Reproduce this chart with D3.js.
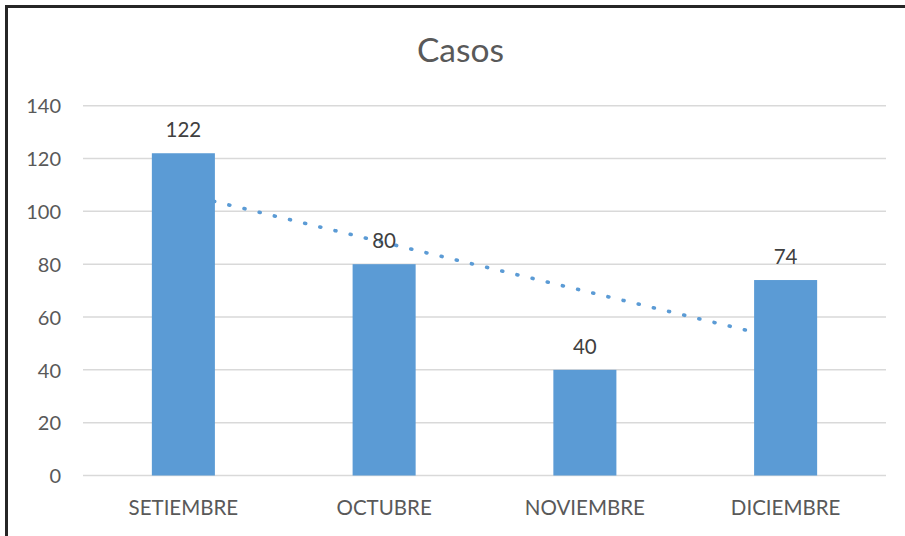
<!DOCTYPE html>
<html>
<head>
<meta charset="utf-8">
<script src="https://cdn.jsdelivr.net/npm/d3@7"></script>
<style>
  html, body { margin: 0; padding: 0; background: #fff; }
  svg { display: block; }
</style>
</head>
<body>
<svg id="chart" width="905" height="536"></svg>
<script>
// Monthly case counts
const months = ["SETIEMBRE", "OCTUBRE", "NOVIEMBRE", "DICIEMBRE"];
const casos = [122, 80, 40, 74];
const yTicks = [0, 20, 40, 60, 80, 100, 120, 140];
const chartTitle = "Casos";

const svg = d3.select("#chart");
const W = 905, H = 536;
const font = "Lato, 'Open Sans', sans-serif";

// Chart frame (extends past the right and bottom edges)
svg.append("rect")
  .attr("x", 6.5).attr("y", 6.5)
  .attr("width", W + 20).attr("height", H + 20)
  .attr("fill", "#fff")
  .attr("stroke", "#262626")
  .attr("stroke-width", 3);

const plot = { left: 83, right: 886, top: 105.7, bottom: 475.5 };

const x = d3.scaleBand()
  .domain(months)
  .range([plot.left, plot.right])
  .paddingInner(0.686)
  .paddingOuter(0.343);

const y = d3.scaleLinear()
  .domain([0, 140])
  .range([plot.bottom, plot.top]);

// Title
svg.append("text")
  .attr("x", 460.5).attr("y", 62)
  .attr("text-anchor", "middle")
  .attr("font-family", font)
  .attr("font-size", 33.5)
  .attr("fill", "#595959")
  .text(chartTitle);

// Horizontal gridlines
svg.append("g")
  .selectAll("line")
  .data(yTicks)
  .join("line")
  .attr("x1", plot.left).attr("x2", plot.right)
  .attr("y1", d => y(d)).attr("y2", d => y(d))
  .attr("stroke", "#D9D9D9")
  .attr("stroke-width", 1.5);

// Y axis labels
const yAxis = d3.axisLeft(y).tickValues(yTicks).tickSize(0).tickPadding(22);
const gy = svg.append("g")
  .attr("transform", `translate(${plot.left},0)`)
  .call(yAxis);
gy.select(".domain").remove();
gy.selectAll("text")
  .attr("font-family", font)
  .attr("font-size", 20)
  .attr("fill", "#595959")
  .attr("dy", "0.36em");

// X axis labels
const xAxis = d3.axisBottom(x).tickSize(0).tickPadding(25);
const gx = svg.append("g")
  .attr("transform", `translate(0,${plot.bottom})`)
  .call(xAxis);
gx.select(".domain").remove();
gx.selectAll("text")
  .attr("font-family", font)
  .attr("font-size", 20.5)
  .attr("fill", "#595959");

// Linear trendline (least squares over category index), drawn beneath the bars
const xs = casos.map((_, i) => i + 1);
const mx = d3.mean(xs), my = d3.mean(casos);
const slope = d3.sum(xs, (v, i) => (v - mx) * (casos[i] - my)) / d3.sum(xs, v => (v - mx) ** 2);
const intercept = my - slope * mx;
const trend = months.map((m, i) => ({ m, v: intercept + slope * (i + 1) }));

svg.append("path")
  .datum(trend)
  .attr("d", d3.line()
    .x(d => x(d.m) + x.bandwidth() / 2)
    .y(d => y(d.v)))
  .attr("fill", "none")
  .attr("stroke", "#5B9BD5")
  .attr("stroke-width", 3.6)
  .attr("stroke-linecap", "round")
  .attr("stroke-dasharray", "1 14.6");

// Bars
svg.append("g")
  .selectAll("rect")
  .data(casos)
  .join("rect")
  .attr("x", (d, i) => x(months[i]))
  .attr("y", d => y(d))
  .attr("width", x.bandwidth())
  .attr("height", d => y(0) - y(d))
  .attr("fill", "#5B9BD5");

// Value labels
svg.append("g")
  .selectAll("text")
  .data(casos)
  .join("text")
  .attr("x", (d, i) => x(months[i]) + x.bandwidth() / 2)
  .attr("y", d => y(d) - 16)
  .attr("text-anchor", "middle")
  .attr("font-family", font)
  .attr("font-size", 20.5)
  .attr("fill", "#404040")
  .text(d => d);
</script>
</body>
</html>
